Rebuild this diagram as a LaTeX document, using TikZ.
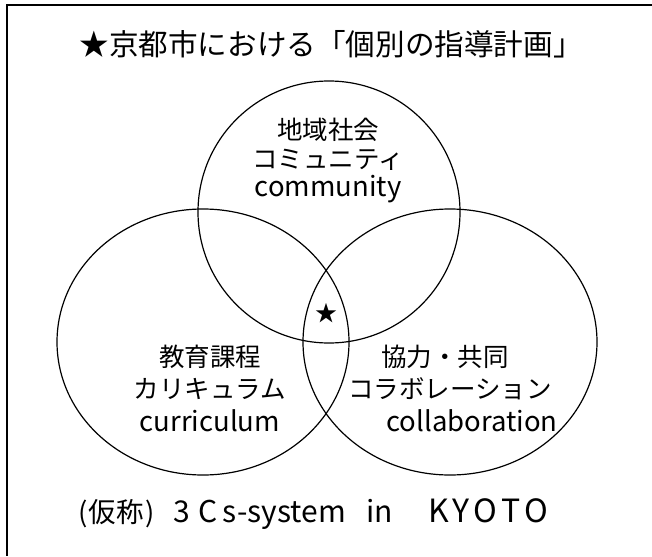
\documentclass[tikz,border=0pt]{standalone}
\usepackage{fontspec}
\setmainfont{Noto Sans CJK JP}
\begin{document}
\begin{tikzpicture}[x=1pt,y=-1pt,
  ring/.style={draw=black,line width=1.2pt},
  lbl/.style={inner sep=0pt,font=\fontsize{25.5}{30}\selectfont},
  latin/.style={inner sep=0pt,font=\fontsize{27.5}{32}\selectfont},
  frameline/.style={line width=2.6pt}]
\useasboundingbox (0,0) rectangle (652,556);
\draw[frameline] (652,5) -- (7,5) -- (7,556);
\node[inner sep=0pt,font=\fontsize{29.6}{34}\selectfont] (title) at (331,44) {★京都市における「個別の指導計画」};
\draw[ring] (329,212) circle[radius=131];
\draw[ring] (203,342) ellipse[x radius=146,y radius=133];
\draw[ring] (450,342) ellipse[x radius=147,y radius=133];
\node[lbl] (t1) at (328,130) {地域社会};
\node[lbl] (t2) at (328,160) {コミュニティ};
\node[latin] (t3) at (328,189) {community};
\node[lbl] (l1) at (210,357) {教育課程};
\node[lbl] (l2) at (210,389) {カリキュラム};
\node[latin] (l3) at (210,421) {curriculum};
\node[lbl] (r1) at (445,357) {協力・共同};
\node[lbl] (r2) at (450,389) {コラボレーション};
\node[latin] (r3) at (472,421) {collaboration};
\node[inner sep=0pt,font=\fontsize{22}{26}\selectfont] (star) at (326,313) {★};
\node[inner sep=0pt,anchor=west,font=\fontsize{30}{36}\selectfont] (bottom) at (78,514)
  {\makebox[95pt][l]{\fontsize{27.5}{32}\selectfont(\kern1.5pt仮称\kern1.5pt)}%
   \makebox[193pt][l]{3\kern9pt C\kern5pt s-system}%
   \makebox[62pt][l]{in}%
   {\fontsize{32}{36}\selectfont K\kern4pt Y\kern4pt O\kern4pt T\kern4pt O}};
\end{tikzpicture}
\end{document}
